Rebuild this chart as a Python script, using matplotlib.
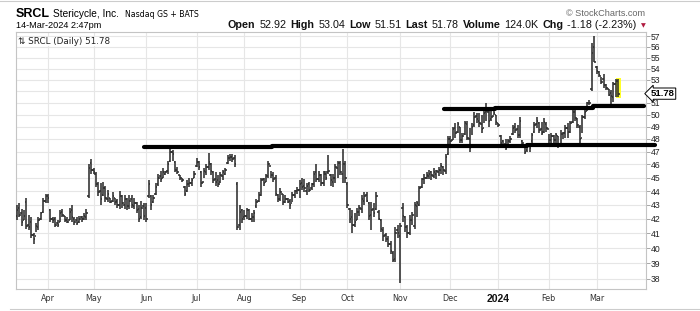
import numpy as np
import pandas as pd
import matplotlib
matplotlib.use('Agg')
import matplotlib.pyplot as plt
from matplotlib.collections import LineCollection
from matplotlib.patches import Rectangle
from matplotlib.lines import Line2D
from matplotlib.ticker import NullLocator
from matplotlib.transforms import blended_transform_factory

# ---------------- data ----------------
holidays = ['2023-04-07', '2023-05-29', '2023-06-19', '2023-07-04', '2023-09-04',
            '2023-11-23', '2023-12-25', '2024-01-01', '2024-01-15', '2024-02-19']
dates = pd.bdate_range('2023-03-15', '2024-03-14')
dates = dates[~dates.isin(pd.to_datetime(holidays))]

high = [
    # Mar 2023
    43.0, 43.1, 42.7, 42.6, 43.5, 42.3, 42.1, 41.0, 41.7, 42.1, 42.5, 43.5, 43.8,
    # Apr
    43.8, 42.7, 42.1, 42.1, 41.9, 42.6, 42.7, 42.2, 42.1, 42.8, 43.0, 42.1, 42.1, 42.2, 42.2, 42.4, 42.7, 46.0, 46.4,
    # May
    45.7, 45.4, 44.7, 44.6, 44.7, 44.4, 44.1, 43.5, 43.9, 43.5, 43.4, 44.0, 43.7, 43.7, 43.5, 43.7, 43.7, 43.5, 43.2, 43.0, 43.3, 43.1,
    # Jun
    43.1, 44.8, 43.7, 43.7, 44.6, 45.3, 45.5, 45.7, 45.5, 46.3, 47.3, 47.1, 46.3, 45.8, 45.2, 45.0, 44.4, 44.8, 45.0, 45.0, 45.5,
    # Jul
    46.5, 46.3, 45.5, 45.7, 46.0, 46.9, 46.1, 45.5, 45.4, 45.2, 45.4, 45.6, 45.7, 46.7, 46.8, 46.8, 46.7, 44.7, 43.0, 42.7,
    # Aug
    42.6, 42.8, 42.7, 42.4, 42.6, 43.4, 43.9, 45.0, 45.0, 45.3, 46.3, 45.5, 45.4, 45.2, 43.8, 44.2, 43.8, 43.7, 43.5, 43.4, 43.9, 44.1, 44.3,
    # Sep
    44.8, 45.0, 44.9, 44.6, 44.7, 44.6, 45.5, 46.0, 45.5, 45.3, 45.5, 45.5, 46.7, 45.3, 45.3, 46.0, 46.3, 46.3, 47.2, 46.3,
    # Oct
    44.7, 42.8, 42.6, 42.4, 42.8, 43.0, 43.7, 43.9, 43.9, 43.2, 43.2, 43.1, 43.9, 42.6, 42.0, 41.4, 41.0, 40.8, 40.5, 39.8, 41.4, 41.6,
    # Nov
    41.7, 43.1, 42.2, 41.6, 42.3, 42.5, 43.2, 43.3, 44.4, 45.0, 45.3, 45.4, 45.6, 45.5, 45.7, 45.6, 45.8, 46.1, 45.9, 46.8, 48.2,
    # Dec
    48.2, 49.0, 49.3, 49.4, 49.0, 48.5, 49.5, 49.5, 48.9, 49.3, 50.2, 50.1, 50.1, 50.0, 50.4, 51.0, 50.4, 50.4, 50.4, 50.0,
    # Jan 2024
    49.3, 48.3, 47.9, 48.0, 48.0, 48.2, 49.1, 49.3, 49.1, 49.8, 47.9, 47.6, 47.7, 47.6, 48.5, 49.4, 49.8, 49.4, 49.4, 49.7, 49.4,
    # Feb
    48.4, 48.5, 48.3, 48.5, 48.2, 48.7, 48.6, 49.1, 49.3, 49.5, 50.4, 50.4, 49.7, 49.1, 50.0, 50.4, 51.1, 51.2, 56.4, 57.0,
    # Mar
    54.2, 53.8, 53.2, 53.5, 52.6, 52.2, 52.1, 52.8, 53.1, 53.04,
]
low = [
    41.9, 42.1, 41.5, 41.9, 41.3, 41.2, 40.7, 40.3, 41.1, 41.2, 41.9, 42.4, 43.1,
    43.1, 41.8, 41.7, 41.4, 41.4, 41.8, 42.1, 41.8, 41.7, 41.9, 41.8, 41.6, 41.6, 41.7, 41.8, 41.9, 41.9, 43.5, 45.3,
    45.3, 44.3, 43.6, 43.0, 43.6, 43.2, 43.2, 43.1, 43.2, 43.0, 42.8, 42.7, 42.8, 42.7, 42.6, 42.7, 42.8, 42.7, 42.4, 41.8, 42.0, 41.9,
    41.8, 43.5, 42.6, 43.1, 43.7, 44.4, 44.7, 45.0, 45.2, 45.3, 46.2, 46.3, 45.4, 45.3, 44.8, 44.7, 43.6, 43.9, 44.3, 44.4, 45.0,
    45.8, 45.6, 44.3, 45.0, 45.2, 45.6, 45.2, 44.6, 44.4, 44.3, 44.6, 44.8, 45.2, 46.0, 46.3, 46.2, 45.8, 41.2, 41.2, 41.7,
    41.9, 42.0, 41.9, 41.8, 41.8, 42.8, 43.2, 43.6, 44.4, 44.7, 45.0, 45.0, 44.7, 43.6, 43.2, 43.3, 43.0, 43.1, 43.1, 42.7, 43.2, 43.5, 43.8,
    43.5, 44.1, 43.9, 43.7, 43.9, 44.1, 44.3, 44.7, 44.7, 44.4, 44.4, 44.8, 45.3, 44.4, 44.3, 44.6, 45.0, 45.2, 44.6, 44.6,
    42.8, 41.7, 41.0, 41.4, 41.9, 42.2, 42.4, 43.0, 43.2, 41.9, 41.2, 42.1, 42.6, 41.9, 41.1, 40.5, 40.4, 40.1, 39.6, 39.1, 39.1, 40.7,
    37.7, 41.8, 41.1, 40.7, 40.9, 41.6, 41.3, 42.1, 42.9, 44.2, 44.5, 44.9, 44.9, 44.8, 45.0, 44.9, 45.1, 45.3, 45.2, 45.3, 46.7,
    47.3, 47.9, 48.1, 48.5, 47.7, 47.7, 48.3, 47.9, 47.0, 48.3, 49.0, 49.3, 49.0, 48.5, 49.3, 49.5, 49.0, 49.5, 50.0, 49.1,
    49.0, 47.6, 47.3, 47.1, 47.6, 47.7, 48.3, 48.5, 48.1, 48.1, 47.6, 46.8, 47.0, 47.0, 47.7, 48.5, 48.9, 48.5, 48.3, 48.5, 48.6,
    47.7, 47.7, 47.7, 47.7, 47.3, 47.7, 48.0, 48.1, 48.1, 48.5, 49.3, 49.5, 48.9, 47.7, 48.5, 49.6, 50.3, 50.8, 52.0, 54.6,
    53.5, 53.2, 52.6, 52.3, 52.1, 51.6, 50.9, 51.1, 51.5, 51.51,
]
close = [
    42.6, 42.3, 41.8, 42.2, 41.5, 41.4, 40.9, 40.6, 41.5, 41.9, 42.4, 43.3, 43.6,
    43.5, 42.0, 41.9, 41.6, 41.6, 42.4, 42.3, 41.9, 41.8, 42.5, 42.1, 41.8, 41.7, 42.0, 42.0, 42.2, 42.4, 45.7, 45.6,
    45.4, 44.5, 43.9, 43.4, 44.2, 43.5, 43.8, 43.2, 43.6, 43.2, 43.0, 43.6, 43.1, 43.4, 42.9, 43.3, 43.0, 43.1, 42.6, 42.0, 42.8, 42.2,
    42.0, 44.5, 43.0, 43.5, 44.3, 45.0, 44.9, 45.4, 45.4, 46.0, 47.0, 46.8, 45.6, 45.4, 45.0, 44.8, 43.8, 44.5, 44.6, 44.8, 45.3,
    46.2, 45.8, 44.6, 45.5, 45.8, 46.2, 45.5, 44.8, 44.7, 44.5, 45.2, 45.4, 45.6, 46.5, 46.6, 46.4, 46.0, 41.4, 42.5, 42.0,
    42.2, 42.6, 42.0, 42.1, 42.4, 43.2, 43.7, 44.8, 44.6, 45.1, 46.0, 45.2, 44.9, 43.8, 43.4, 43.9, 43.2, 43.4, 43.2, 43.0, 43.7, 44.0, 44.1,
    44.5, 44.3, 44.2, 44.4, 44.1, 44.5, 45.3, 44.9, 45.2, 44.6, 45.4, 45.0, 45.5, 44.8, 45.0, 45.8, 46.1, 45.4, 46.0, 45.0,
    43.0, 42.0, 41.6, 41.8, 42.5, 42.8, 43.4, 43.6, 43.3, 42.2, 42.6, 42.4, 43.6, 42.0, 41.3, 40.8, 40.6, 40.3, 39.8, 39.2, 41.0, 41.0,
    41.5, 42.2, 41.4, 41.0, 41.9, 42.3, 43.0, 43.1, 44.2, 44.9, 45.0, 45.2, 45.3, 45.2, 45.4, 45.5, 45.6, 45.9, 45.6, 46.6, 48.0,
    47.8, 48.8, 48.5, 49.2, 47.9, 48.2, 49.3, 48.1, 47.3, 49.0, 49.8, 49.6, 49.3, 48.8, 50.1, 50.3, 49.5, 49.8, 50.1, 49.4,
    49.1, 47.7, 47.5, 47.3, 47.8, 48.0, 48.9, 48.7, 48.3, 49.5, 47.7, 47.0, 47.4, 47.3, 48.3, 49.1, 49.5, 48.7, 48.5, 49.4, 48.9,
    47.9, 48.2, 47.9, 48.3, 47.6, 48.4, 48.5, 48.9, 48.6, 49.3, 50.2, 49.7, 49.1, 48.0, 49.8, 50.2, 51.0, 51.0, 55.4, 54.6,
    53.8, 53.4, 52.8, 52.5, 52.3, 51.7, 51.6, 52.6, 52.9, 51.78,
]
open_ = [
    42.2, 42.8, 42.4, 41.9, 43.2, 41.6, 41.8, 40.9, 40.8, 41.4, 42.0, 42.5, 43.3,
    43.6, 42.6, 42.0, 42.0, 41.7, 41.8, 42.5, 42.2, 41.9, 41.9, 42.6, 42.0, 41.9, 41.8, 42.1, 42.0, 42.1, 43.6, 46.1,
    45.6, 45.3, 44.5, 44.0, 43.7, 44.2, 43.4, 43.5, 43.3, 43.5, 43.3, 43.0, 43.6, 43.0, 43.4, 42.9, 43.4, 42.9, 43.1, 42.7, 42.1, 42.9,
    42.8, 43.6, 43.6, 43.2, 43.8, 44.5, 45.1, 45.0, 45.3, 45.5, 46.3, 47.0, 46.2, 45.6, 45.2, 45.0, 44.3, 44.0, 44.5, 44.6, 45.0,
    45.9, 46.2, 45.4, 44.7, 45.4, 45.8, 46.0, 45.4, 44.9, 44.8, 44.7, 45.1, 45.3, 46.1, 46.5, 46.6, 46.5, 44.5, 41.6, 42.6,
    42.1, 42.2, 42.6, 42.0, 42.1, 42.9, 43.3, 43.7, 44.9, 44.7, 45.1, 45.9, 45.2, 45.0, 43.7, 43.4, 43.8, 43.2, 43.4, 43.3, 43.1, 43.7, 44.0,
    44.1, 44.6, 44.4, 44.0, 44.5, 44.2, 44.5, 45.4, 44.9, 45.2, 44.6, 45.3, 45.4, 45.2, 44.7, 45.0, 45.7, 46.1, 45.3, 46.0,
    44.5, 42.7, 42.1, 41.6, 41.9, 42.5, 42.7, 43.3, 43.7, 43.1, 42.3, 42.7, 42.7, 42.5, 41.9, 41.2, 40.9, 40.6, 40.3, 39.7, 39.3, 41.2,
    40.8, 42.8, 42.1, 41.4, 41.0, 41.9, 41.5, 42.9, 43.0, 44.3, 44.9, 45.0, 45.1, 45.4, 45.1, 45.3, 45.4, 45.6, 45.8, 45.5, 46.8,
    48.0, 47.9, 48.9, 48.6, 49.0, 47.9, 48.4, 49.2, 48.0, 47.5, 49.1, 49.9, 49.5, 49.2, 48.9, 50.2, 50.2, 49.6, 49.9, 50.0,
    49.3, 48.2, 47.8, 47.6, 47.4, 47.8, 48.4, 49.0, 48.8, 48.3, 47.8, 47.5, 47.1, 47.4, 47.8, 48.6, 49.2, 49.3, 48.8, 48.6, 49.2,
    48.8, 47.9, 48.2, 47.9, 48.2, 47.6, 48.4, 48.5, 48.9, 48.6, 49.4, 50.2, 49.6, 49.0, 48.1, 49.8, 50.3, 51.0, 52.2, 56.0,
    54.1, 53.7, 53.3, 53.1, 52.5, 52.2, 51.8, 51.5, 52.6, 52.92,
]

# hand-drawn support / resistance lines: (start date index, end index, price)
support_lines = [(53.1, 106.5, 47.39), (106.5, 212.9, 47.46), (212.9, 266.3, 47.52)]
resist_lines = [(178.3, 199.6, 50.47), (199.6, 240.5, 50.56), (240.5, 261.8, 50.71)]

y_ticks = list(range(38, 58))
header_pieces = [('Open', True), ('52.92', False), ('High', True), ('53.04', False),
                 ('Low', True), ('51.51', False), ('Last', True), ('51.78', False),
                 ('Volume', True), ('124.0K', False), ('Chg', True), ('-1.18 (-2.23%)', False)]

n = len(dates)
for arr in (high, low, close, open_):
    if len(arr) != n:
        raise ValueError(f'length mismatch {len(arr)} vs {n}')

# ---------------- figure ----------------
W, H = 700, 311
SANS = ['Liberation Sans', 'DejaVu Sans']
fig = plt.figure(figsize=(W / 100, H / 100), dpi=100)
fig.patch.set_facecolor('white')
ax = fig.add_axes([16 / W, 1 - 289 / H, 630 / W, 257 / H])
ax.set_yscale('log')
ax.set_ylim(37.35, 57.4)
ax.set_xlim(-0.35, 262.6)

segs = []
for i in range(n):
    segs.append([(i, low[i]), (i, high[i])])
    segs.append([(i - 0.6, open_[i]), (i, open_[i])])
    segs.append([(i, close[i]), (i + 0.6, close[i])])
ax.add_collection(LineCollection(segs, colors='#2e2e2e', linewidths=1.15, zorder=3))

# highlight last bar
ax.add_patch(Rectangle((n - 1 - 1.05, low[-1] - 0.08), 2.1, high[-1] - low[-1] + 0.16,
                       facecolor='#ffff2a', edgecolor='none', zorder=2.6))

for x0, x1, p in support_lines + resist_lines:
    ax.plot([x0, x1], [p, p], color='black', lw=3.0, solid_capstyle='round',
            clip_on=False, zorder=4)

# month ticks
months = dates.to_period('M')
starts = [i for i in range(1, n) if months[i] != months[i - 1]]
labels = ['2024' if dates[i].month == 1 else dates[i].strftime('%b') for i in starts]
ax.set_xticks(starts)
ax.set_xticklabels(labels)
ax.tick_params(axis='x', length=0, pad=3.5, labelsize=5.8, labelcolor='#333333')
for t in ax.get_xticklabels():
    t.set_family(['DejaVu Sans'])
    if t.get_text() == '2024':
        t.set_family(SANS)
        t.set_fontweight('bold')
        t.set_fontsize(7.5)
        t.set_color('#111111')

# y tick labels (the 52 label sits under the last-price tag, as in the original)
last_price = close[-1]
ax.yaxis.tick_right()
ax.set_yticks(y_ticks)
ax.set_yticklabels(['' if abs(v - last_price) < 0.5 else str(v) for v in y_ticks])
ax.yaxis.set_minor_locator(NullLocator())
ax.tick_params(axis='y', length=3, width=0.6, color='#999999', pad=0.5,
               labelsize=6.2, labelcolor='#222222')
for t in ax.get_yticklabels():
    t.set_family(SANS)

ax.grid(True, color='#e6e6e6', lw=0.8)
ax.set_axisbelow(True)
for s in ax.spines.values():
    s.set_color('#c4c4c4')
    s.set_linewidth(0.8)

# last price tag
tr = blended_transform_factory(ax.transAxes, ax.transData)
ax.text(1.0075, last_price, f'{last_price:.2f}', transform=tr, ha='left', va='center',
        fontsize=6.8, fontweight='bold', family=SANS, zorder=6, clip_on=False,
        bbox=dict(boxstyle='larrow,pad=0.12', fc='white', ec='black', lw=0.7))

# label inside chart
ax.text(2 / 630, 1 - 12 / 257, '\u21c5 SRCL (Daily) 51.78', transform=ax.transAxes,
        ha='left', va='baseline', fontsize=6.3, family=['DejaVu Sans'], color='#222222',
        zorder=5, bbox=dict(fc='white', ec='none', pad=0.3))

# ---------------- header ----------------
def fx(px):
    return px / W

def fy(py):
    return 1 - py / H

fig.text(fx(16), fy(17), 'SRCL', fontsize=9.0, fontweight='bold', family=SANS, va='baseline')
fig.text(fx(53), fy(17), 'Stericycle, Inc.', fontsize=7.3, family=SANS, va='baseline')
fig.text(fx(125), fy(17), 'Nasdaq GS + BATS', fontsize=5.6, family=['DejaVu Sans'], va='baseline')
fig.text(fx(16), fy(27.5), '14-Mar-2024 2:47pm', fontsize=6.6, family=SANS, va='baseline')
fig.text(fx(645), fy(16), '\u00a9 StockCharts.com', fontsize=6.6, family=SANS, va='baseline',
         ha='right', color='#666666')

fig.canvas.draw()
rend = fig.canvas.get_renderer()
base_fs = 7.5
widths = []
for txt, bold in header_pieces:
    t = fig.text(0, 0, txt, fontsize=base_fs, fontweight='bold' if bold else 'normal', family=SANS)
    widths.append(t.get_window_extent(rend).width)
    t.remove()
gap = 3.8
target = 637 - 228
scale = (target - gap * (len(header_pieces) - 1)) / sum(widths)
fs = base_fs * scale
xp = 228
for (txt, bold), w in zip(header_pieces, widths):
    fig.text(fx(xp), fy(27.5), txt, fontsize=fs, fontweight='bold' if bold else 'normal',
             family=SANS, va='baseline', color='#111111')
    xp += w * scale + gap
fig.text(fx(643), fy(27), '\u25bc', fontsize=4.5, family=['DejaVu Sans'], color='#b01a40',
         va='baseline', ha='center')

# frame lines
fig.add_artist(Line2D([0, 1], [fy(1), fy(1)], color='#cccccc', lw=0.8))
fig.add_artist(Line2D([fx(10), 1], [fy(309), fy(309)], color='#cccccc', lw=0.8))

fig.savefig('out.png', dpi=100, facecolor='white')
